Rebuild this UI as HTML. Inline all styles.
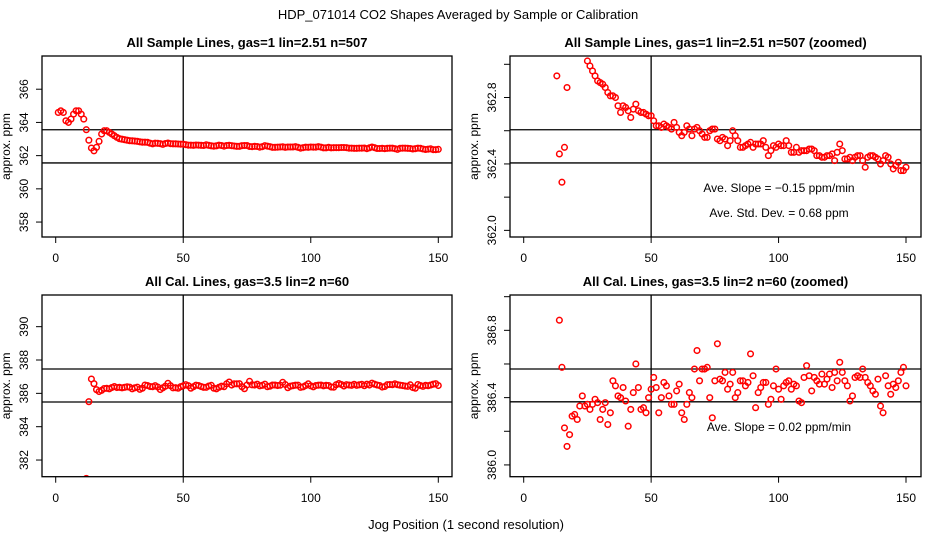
<!DOCTYPE html>
<html><head><meta charset="utf-8">
<style>
html,body{margin:0;padding:0;background:#fff;width:936px;height:540px;overflow:hidden;}
svg{display:block;font-family:"Liberation Sans",Arial,sans-serif;}
</style></head>
<body>
<svg id="chart" width="936" height="540" viewBox="0 0 936 540">
<rect x="0" y="0" width="936" height="540" fill="#fff"/>
<text x="458" y="19" font-size="13" text-anchor="middle">HDP_071014  CO2 Shapes Averaged by Sample or Calibration</text>
<text x="466" y="529" font-size="13" text-anchor="middle">Jog Position (1 second resolution)</text>
</svg>
<script>
// Sample series (x = 1..150)
const sampleValues = [364.6,364.7,364.6,364.1,364.0,364.2,364.5,364.7,364.7,364.5,364.2,363.56,362.93,362.46,362.29,362.5,362.86,363.3,363.5,363.5,363.4,363.3,363.2,363.1,
363.02,362.99,362.96,362.93,362.9,362.89,362.88,362.86,362.83,362.81,362.81,362.8,362.75,362.71,362.75,362.74,362.72,362.68,362.73,362.76,362.72,362.71,362.71,362.7,362.69,362.69,
362.66,362.63,362.63,362.62,362.64,362.63,362.62,362.61,362.65,362.62,362.59,362.57,362.59,362.63,362.61,362.57,362.61,362.62,362.6,362.58,362.56,362.56,362.6,362.61,362.61,
362.55,362.54,362.56,362.55,362.51,362.54,362.6,362.57,362.54,362.5,362.5,362.51,362.52,362.53,362.5,362.52,362.52,362.52,362.54,362.5,362.45,362.48,362.51,362.5,362.52,
362.51,362.51,362.54,362.51,362.47,362.47,362.5,362.47,362.48,362.48,362.48,362.49,362.49,362.48,362.45,362.45,362.44,362.44,362.45,362.45,362.46,362.42,362.47,362.52,362.48,
362.43,362.43,362.44,362.42,362.44,362.45,362.45,362.42,362.38,362.44,362.45,362.45,362.44,362.43,362.4,362.42,362.45,362.44,362.4,362.37,362.39,362.41,362.36,362.36,362.38];
const sampleStartX = 1;
// Calibration series (x = 12..150)
const calValues = [380.9,385.5,
386.86,386.58,386.22,386.11,386.18,386.29,386.3,386.27,386.35,386.41,386.35,386.36,386.33,386.36,386.39,386.37,386.27,386.33,386.37,386.24,386.31,386.5,386.47,386.41,386.4,
386.46,386.38,386.23,386.33,386.43,386.6,386.46,386.33,386.34,386.31,386.4,386.45,386.52,386.46,386.31,386.4,386.49,386.47,386.41,386.36,386.36,386.44,386.48,386.31,386.27,
386.36,386.43,386.4,386.57,386.68,386.5,386.57,386.57,386.58,386.4,386.28,386.5,386.72,386.51,386.5,386.55,386.45,386.48,386.55,386.4,386.43,386.5,386.5,386.47,386.49,386.66,
386.53,386.34,386.43,386.46,386.49,386.49,386.36,386.39,386.47,386.57,386.45,386.39,386.47,386.49,386.5,386.45,386.48,386.47,386.38,386.37,386.52,386.59,386.53,386.44,386.52,
386.5,386.48,386.54,386.48,386.51,386.54,386.46,386.55,386.5,386.61,386.55,386.5,386.47,386.38,386.41,386.52,386.53,386.52,386.57,386.52,386.49,386.47,386.44,386.42,386.51,
386.35,386.31,386.53,386.47,386.42,386.48,386.46,386.5,386.55,386.58,386.47];
const calStartX = 12;
const xTicks = [0,50,100,150];
const tlYTicks = [358,360,362,364,366];
const trYTicks = [362.0,362.2,362.4,362.6,362.8,363.0];
const trYLabels = ["362.0","","362.4","","362.8",""];
const blYTicks = [382,384,386,388,390];
const brYTicks = [386.0,386.2,386.4,386.6,386.8,387.0];
const brYLabels = ["386.0","","386.4","","386.8",""];
const tlLines = [363.56,361.56];
const trLines = [362.606,362.406];
const blLines = [387.46,385.48];
const brLines = [386.57,386.375];

const NS = "http://www.w3.org/2000/svg";
const svg = document.getElementById('chart');
function mk(tag, attrs, parent){
  const e = document.createElementNS(NS, tag);
  for (const k in attrs) e.setAttribute(k, attrs[k]);
  (parent||svg).appendChild(e);
  return e;
}
const panels = [
  {id:'tl', box:[42,56,452,237], x0:55.7, x150:438.3, yr:[357.1,368.0], title:'All Sample Lines, gas=1 lin=2.51 n=507', ticks:tlYTicks, labels:tlYTicks.map(String), lines:tlLines, vals:sampleValues, sx:sampleStartX, titleY:47, tickLabelY:262},
  {id:'tr', box:[510,56,921,237], x0:523.7, x150:906, yr:[361.96,363.05], title:'All Sample Lines, gas=1 lin=2.51 n=507 (zoomed)', ticks:trYTicks, labels:trYLabels, lines:trLines, vals:sampleValues, sx:sampleStartX, titleY:47, tickLabelY:262},
  {id:'bl', box:[42,295,452,476.7], x0:55.7, x150:438.3, yr:[381.0,391.9], title:'All Cal. Lines, gas=3.5 lin=2 n=60', ticks:blYTicks, labels:blYTicks.map(String), lines:blLines, vals:calValues, sx:calStartX, titleY:286, tickLabelY:502},
  {id:'br', box:[510,295,921,476.7], x0:523.7, x150:906, yr:[385.93,387.01], title:'All Cal. Lines, gas=3.5 lin=2 n=60 (zoomed)', ticks:brYTicks, labels:brYLabels, lines:brLines, vals:calValues, sx:calStartX, titleY:286, tickLabelY:502}
];
const defs = mk('defs',{});
panels.forEach(p=>{
  const [l,t,r,b] = p.box;
  const X = v => p.x0 + (v/150)*(p.x150-p.x0);
  const Y = v => b - (v-p.yr[0])/(p.yr[1]-p.yr[0])*(b-t);
  const g = mk('g',{});
  
  
  const cp = mk('clipPath',{id:'clip-'+p.id}, defs);
  mk('rect',{x:l,y:t,width:r-l,height:b-t}, cp);
  const ti = mk('text',{x:(l+r)/2,y:p.titleY,'font-size':13,'font-weight':'bold','text-anchor':'middle'}, g);
  ti.textContent = p.title;
  
  
  xTicks.forEach(v=>{
    mk('line',{x1:X(v),x2:X(v),y1:b,y2:b+6,stroke:'#000','stroke-width':1}, g);
    const tx = mk('text',{x:X(v),y:p.tickLabelY,'font-size':12,'text-anchor':'middle'}, g);
    tx.textContent = v;
    
    
  });
  p.ticks.forEach((v,i)=>{
    const yy = Y(v);
    mk('line',{x1:l-6,x2:l,y1:yy,y2:yy,stroke:'#000','stroke-width':1}, g);
    if (p.labels[i]) {
      const lx = l-14;
      const tx = mk('text',{x:lx,y:yy,'font-size':12,'text-anchor':'middle',transform:`rotate(-90 ${lx} ${yy})`}, g);
      tx.textContent = p.labels[i];
      
      
    }
  });
  const yx = l-32, ym = (t+b)/2;
  const yt = mk('text',{x:yx,y:ym,'font-size':12,'text-anchor':'middle',transform:`rotate(-90 ${yx} ${ym})`}, g);
  yt.textContent = 'approx. ppm';
  
  
  const pg = mk('g',{'clip-path':`url(#clip-${p.id})`}, g);
  p.lines.forEach(v=>{
    const ln = mk('line',{x1:l,x2:r,y1:Y(v),y2:Y(v),stroke:'#000','stroke-width':1.3}, pg);
    
    
  });
  const vl = mk('line',{x1:X(50),x2:X(50),y1:t,y2:b,stroke:'#000','stroke-width':1.3}, pg);
  
  
  p.vals.forEach((v,i)=>{
    const c = mk('circle',{cx:X(p.sx+i),cy:Y(v),r:2.8,fill:'none',stroke:'#f00','stroke-width':1.5}, pg);
    
    
  });
  const bx = mk('rect',{x:l,y:t,width:r-l,height:b-t,fill:'none',stroke:'#000','stroke-width':1.3}, g);
  
  
});
function note(x,y,s,name){
  const tx = mk('text',{x:x,y:y,'font-size':12,'text-anchor':'middle'});
  tx.textContent = s;
  
  
}
note(779,192,'Ave. Slope =  \u22120.15  ppm/min','slope-annotation');
note(779,217,'Ave. Std. Dev. =  0.68  ppm','stddev-annotation');
note(779,431,'Ave. Slope =  0.02  ppm/min','cal-slope-annotation');
</script>
</body></html>
